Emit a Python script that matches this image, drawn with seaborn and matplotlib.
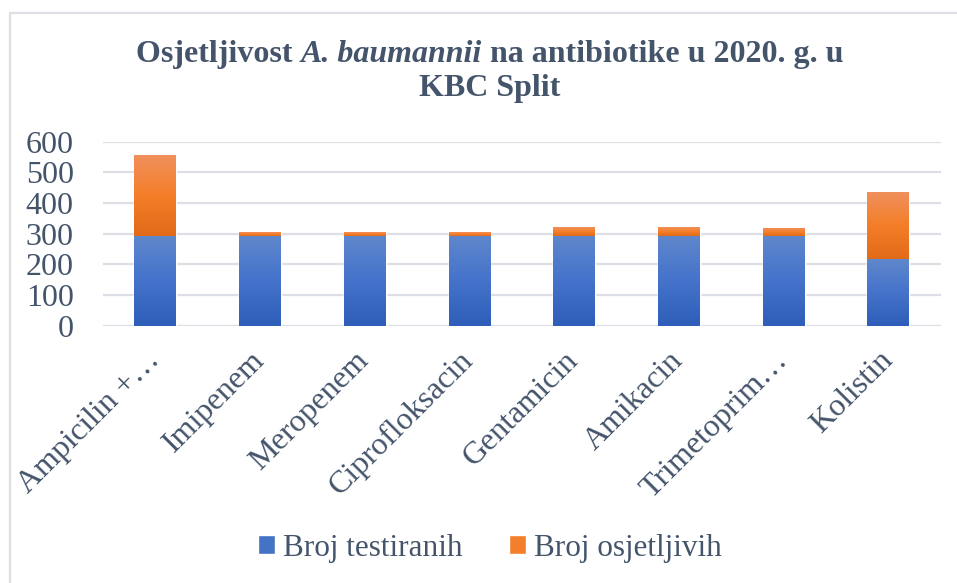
import numpy as np
import pandas as pd
import matplotlib
matplotlib.use("Agg")
import matplotlib.pyplot as plt
from matplotlib.colors import LinearSegmentedColormap
from matplotlib.patches import Patch
from matplotlib.lines import Line2D
import seaborn as sns

antibiotics = ["Ampicilin +…", "Imipenem", "Meropenem", "Ciprofloksacin",
               "Gentamicin", "Amikacin", "Trimetoprim…", "Kolistin"]
tested = [294, 294, 294, 294, 294, 294, 294, 218]
sensitive = [263, 11, 11, 11, 28, 28, 25, 218]

df = pd.DataFrame({"Antibiotik": antibiotics, "Broj testiranih": tested,
                   "Broj osjetljivih": sensitive})
df["Ukupno"] = df["Broj testiranih"] + df["Broj osjetljivih"]

sns.set_style("white")
plt.rcParams["font.family"] = ["Liberation Serif", "DejaVu Serif"]
text_col = "#44546A"
grid_col = "#DCE0E6"

fig = plt.figure(figsize=(9.57, 5.83), dpi=100)
ax = fig.add_axes([0.1076, 0.4413, 0.8754, 0.3157])

sns.barplot(data=df, x="Antibiotik", y="Ukupno", color="#F47F2A", width=0.4,
            ax=ax, zorder=2)
n = len(antibiotics)
sns.barplot(data=df, x="Antibiotik", y="Broj testiranih", color="#4472C4",
            width=0.4, ax=ax, zorder=2)

# gradient fill, like the office chart
blue_cm = LinearSegmentedColormap.from_list("b", ["#2E5EB9", "#4573CB", "#5F87CC"])
orange_cm = LinearSegmentedColormap.from_list("o", ["#E26A19", "#F47E28", "#F0905C"])
grad = np.linspace(0, 1, 100).reshape(-1, 1)
for i, p in enumerate(ax.patches):
    x0, w = p.get_x(), p.get_width()
    if i < n:
        y0, y1, cm = tested[i % n], tested[i % n] + sensitive[i % n], orange_cm
    else:
        y0, y1, cm = 0, tested[i % n], blue_cm
    im = ax.imshow(grad, extent=[x0, x0 + w, y0, y1], origin="lower", cmap=cm,
                   aspect="auto", zorder=3, interpolation="bilinear")
    im.set_clip_path(p)

ax.set_xlim(-0.5, n - 0.5)
ax.set_ylim(0, 600)
ax.set_yticks(range(0, 601, 100))
ax.yaxis.grid(True, color=grid_col, linewidth=1.6, zorder=0)
ax.set_axisbelow(True)
for s in ax.spines.values():
    s.set_visible(False)
ax.axhline(0, color=grid_col, linewidth=1.6, zorder=1)
ax.set_xlabel("")
ax.set_ylabel("")
ax.tick_params(axis="both", length=0, labelsize=23, colors=text_col)
ax.tick_params(axis="y", pad=21)
ax.set_xticks(range(n))
ax.set_xticklabels(antibiotics, rotation=45, ha="right", va="center",
                   rotation_mode="anchor")
ax.tick_params(axis="x", pad=22)

# title line 1 in three pieces (italic species name)
parts = [("Osjetljivost ", "normal"), ("A. baumannii", "italic"),
         (" na antibiotike u 2020. g. u", "normal")]
t_objs = []
for txt, style in parts:
    t_objs.append(fig.text(0, 0.906, txt, ha="left", va="center", fontsize=23,
                           fontweight="bold", fontstyle=style, color=text_col))
fig.canvas.draw()
r = fig.canvas.get_renderer()
widths = [t.get_window_extent(r).width for t in t_objs]
x = 0.512 * fig.bbox.width - sum(widths) / 2
for t, w in zip(t_objs, widths):
    t.set_x(x / fig.bbox.width)
    x += w
fig.text(0.512, 0.848, "KBC Split", ha="center", va="center", fontsize=23,
         fontweight="bold", color=text_col)

handles = [Patch(facecolor="#4472C4", label="Broj testiranih"),
           Patch(facecolor="#F47F2A", label="Broj osjetljivih")]
fig.legend(handles=handles, loc="center", bbox_to_anchor=(0.512, 0.06), ncol=2,
           frameon=False, fontsize=22.5, labelcolor=text_col, handlelength=0.55,
           handleheight=0.55, handletextpad=0.25, columnspacing=1.5)

fig.add_artist(Line2D([10 / 957, 10 / 957], [0, 1 - 13 / 583], color=grid_col,
                      linewidth=1.6, transform=fig.transFigure))
fig.add_artist(Line2D([10 / 957, 1], [1 - 13 / 583, 1 - 13 / 583], color=grid_col,
                      linewidth=1.6, transform=fig.transFigure))

fig.savefig("out.png", dpi=100)
